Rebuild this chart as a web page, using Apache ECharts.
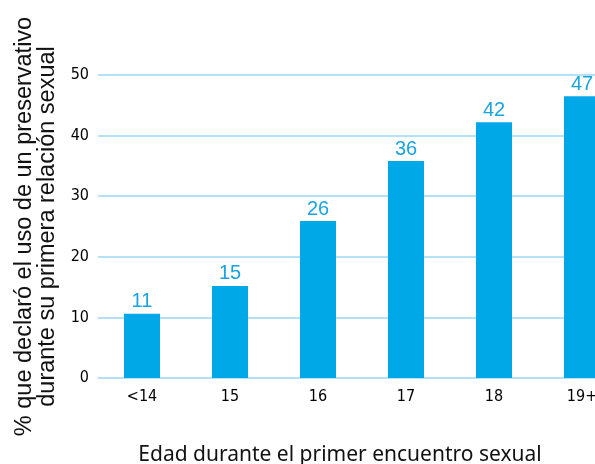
<!DOCTYPE html>
<html>
<head>
<meta charset="utf-8">
<script src="https://cdn.jsdelivr.net/npm/echarts@6/dist/echarts.min.js"></script>
<style>
  html, body { margin: 0; padding: 0; background: #fff; overflow: hidden; }
  /* the last bar runs off the right edge in the original, so the chart is wider than the window */
  #chart { width: 626px; height: 464px; }
</style>
</head>
<body>
<div id="chart"></div>
<script>
const ages = ["<14", "15", "16", "17", "18", "19+"];
const condomUse = [10.6, 15.2, 25.9, 35.8, 42.2, 46.5];
const yTicks = [0, 10, 20, 30, 40, 50];

const BLUE = "#00a8e8";
const narrow = "'Liberation Sans Narrow', 'DejaVu Sans Condensed', sans-serif";

const chart = echarts.init(document.getElementById("chart"));

chart.setOption({
  animation: false,
  grid: { left: 98, right: 0, top: 75, bottom: 86, containLabel: false, outerBoundsMode: "none" },
  xAxis: {
    type: "category",
    data: ages,
    axisLine: { show: false },
    axisTick: { show: false },
    axisLabel: { color: "#000", fontFamily: narrow, fontSize: 16, margin: 11 },
    name: "Edad durante el primer encuentro sexual",
    nameLocation: "middle",
    nameGap: 67,
    nameTextStyle: { color: "#111", fontFamily: "'Noto Sans', sans-serif", fontSize: 21, padding: [0, 44, 0, 0] }
  },
  yAxis: {
    type: "value",
    min: yTicks[0],
    max: yTicks[yTicks.length - 1],
    interval: 10,
    axisLine: { show: false },
    axisTick: { show: false },
    splitLine: { lineStyle: { color: "#b5e1f7", width: 2 } },
    axisLabel: { color: "#000", fontFamily: narrow, fontSize: 16, margin: 9 },
    name: "% que declaró el uso de un preservativo\ndurante su primera relación sexual",
    nameLocation: "middle",
    nameRotate: 90,
    nameGap: 32,
    nameTextStyle: { color: "#111", fontFamily: "'Liberation Sans', sans-serif", fontSize: 23.5, lineHeight: 23, align: "center" }
  },
  series: [
    {
      type: "bar",
      data: condomUse,
      barWidth: 36,
      itemStyle: { color: BLUE },
      label: {
        show: true,
        position: "top",
        distance: 2,
        color: "#1aa3e3",
        fontFamily: "'Liberation Sans', sans-serif",
        fontSize: 20,
        formatter: (p) => Math.round(p.value)
      }
    }
  ]
});
</script>
</body>
</html>
